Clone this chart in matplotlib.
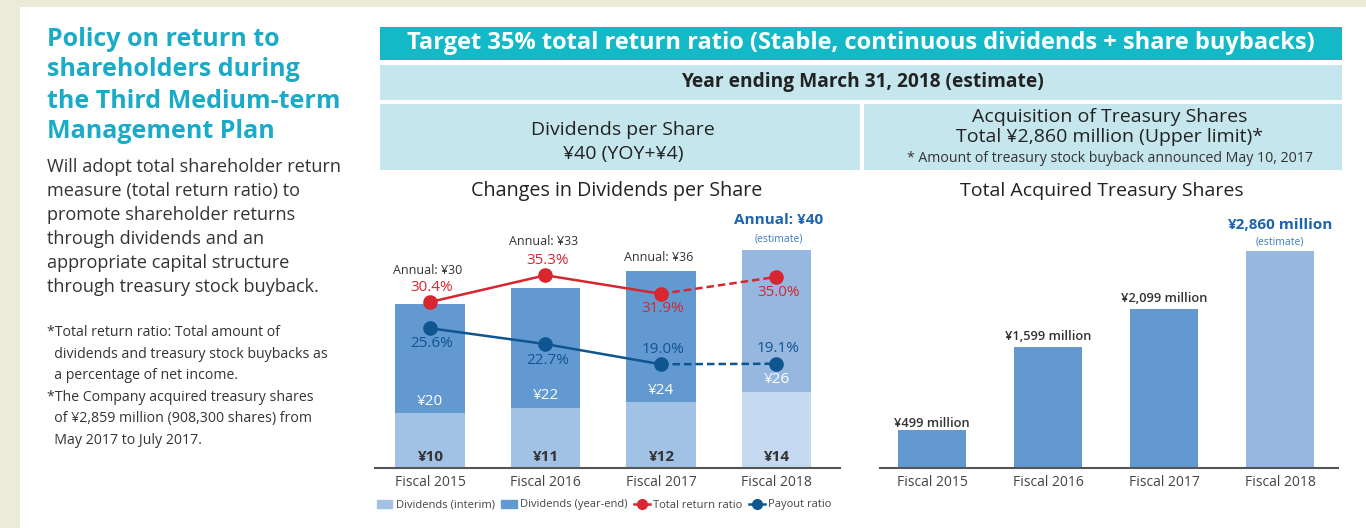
import matplotlib.pyplot as plt
from matplotlib.patches import Rectangle
from matplotlib.lines import Line2D
from matplotlib.patches import Patch

years = ['Fiscal 2015', 'Fiscal 2016', 'Fiscal 2017', 'Fiscal 2018']
div_interim = [10, 11, 12, 14]
div_yearend = [20, 22, 24, 26]
total_return = [30.4, 35.3, 31.9, 35.0]
payout = [25.6, 22.7, 19.0, 19.1]
treasury = [499, 1599, 2099, 2860]

W, H = 1366, 528
plt.rcParams['font.family'] = ['Open Sans', 'DejaVu Sans']

fig = plt.figure(figsize=(W / 100, H / 100), dpi=100)
fig.patch.set_facecolor('#ecead9')


def px(x):
    return x / W


def py(y):
    return 1 - y / H


def box(x0, y0, x1, y1, color):
    fig.add_artist(Rectangle((px(x0), py(y1)), px(x1 - x0), (y1 - y0) / H,
                             transform=fig.transFigure, color=color, lw=0, zorder=0))


# white page
box(20, 7, W, H, 'white')

# left column text
cyan = '#1aabc8'
dark = '#333333'
for i, line in enumerate(['Policy on return to', 'shareholders during',
                          'the Third Medium-term', 'Management Plan']):
    fig.text(px(47), py(39 + i * 31), line, color=cyan, fontsize=18,
             fontweight='bold', va='center')
for i, line in enumerate(['Will adopt total shareholder return',
                          'measure (total return ratio) to',
                          'promote shareholder returns',
                          'through dividends and an',
                          'appropriate capital structure',
                          'through treasury stock buyback.']):
    fig.text(px(47), py(167 + i * 24), line, color=dark, fontsize=13.1, va='center')
notes = ['*Total return ratio: Total amount of',
         '  dividends and treasury stock buybacks as',
         '  a percentage of net income.',
         '*The Company acquired treasury shares',
         '  of \u00a52,859 million (908,300 shares) from',
         '  May 2017 to July 2017.']
for i, line in enumerate(notes):
    fig.text(px(47), py(333 + i * 21.4), line, color=dark, fontsize=10.2, va='center')

# header boxes
box(380, 27, 1342, 60, '#14b9c7')
fig.text(px(861), py(43), 'Target 35% total return ratio (Stable, continuous dividends + share buybacks)',
         color='white', fontsize=17, fontweight='bold', ha='center', va='center')
box(380, 65, 1342, 100, '#c4e6ec')
fig.text(px(862), py(82), 'Year ending March 31, 2018 (estimate)', color='#222222',
         fontsize=13.8, fontweight='bold', ha='center', va='center')
box(380, 104, 860, 170, '#c4e6ec')
box(864, 104, 1342, 170, '#c4e6ec')
fig.text(px(623), py(130), 'Dividends per Share', color='#222222', fontsize=14,
         ha='center', va='center')
fig.text(px(623), py(154), '\u00a540 (YOY+\u00a54)', color='#222222', fontsize=14,
         ha='center', va='center')
fig.text(px(1110), py(117), 'Acquisition of Treasury Shares', color='#222222', fontsize=14,
         ha='center', va='center')
fig.text(px(1110), py(137), 'Total \u00a52,860 million (Upper limit)*', color='#222222',
         fontsize=14, ha='center', va='center')
fig.text(px(1110), py(158), '* Amount of treasury stock buyback announced May 10, 2017',
         color='#333333', fontsize=10.2, ha='center', va='center')

# chart titles
fig.text(px(617), py(191), 'Changes in Dividends per Share', color='#222222', fontsize=14.2,
         ha='center', va='center')
fig.text(px(1102), py(191), 'Total Acquired Treasury Shares', color='#222222', fontsize=14,
         ha='center', va='center')

# ---------- left chart ----------
red = '#d7262f'
navy = '#0f5590'
blue_txt = '#1d63ad'
ax = fig.add_axes([px(375), py(468), px(840 - 375), (468 - 200) / H])
x = list(range(len(years)))
c_int = ['#a2c2e5'] * 3 + ['#c5d9f0']
c_ye = ['#6399d1'] * 3 + ['#95b7e0']
ax.bar(x, div_interim, width=0.6, color=c_int, zorder=1)
ax.bar(x, div_yearend, width=0.6, bottom=div_interim, color=c_ye, zorder=1)
ax.set_xlim(-0.476, 3.55)
ax.set_ylim(0, 268 / 5.46)

# ratios share the same scale as the yen axis in the reference
ax.plot(x[:3], total_return[:3], color=red, lw=1.8, zorder=3)
ax.plot(x[2:], total_return[2:], color=red, lw=1.8, ls=(0, (3, 1.6)), zorder=3)
ax.plot(x, total_return, 'o', color=red, ms=9.5, zorder=4)
ax.plot(x[:3], payout[:3], color=navy, lw=1.8, zorder=3)
ax.plot(x[2:], payout[2:], color=navy, lw=1.8, ls=(0, (3, 1.6)), zorder=3)
ax.plot(x, payout, 'o', color=navy, ms=9.5, zorder=4)

for i in x:
    ax.annotate('\u00a5%d' % div_interim[i], (i, 0), xytext=(0, 11), textcoords='offset pixels',
                ha='center', va='center', fontsize=11, fontweight='bold', color='#333333')
    ax.annotate('\u00a5%d' % div_yearend[i], (i, div_interim[i]), xytext=(0, 12),
                textcoords='offset pixels', ha='center', va='center', fontsize=11,
                color='white')

tr_off = [15, 15, -15, -16]
po_off = [-15, -16, 15, 15]
for i in x:
    ax.annotate('%.1f%%' % total_return[i], (i, total_return[i]), xytext=(2, tr_off[i]),
                textcoords='offset pixels', ha='center', va='center', fontsize=11, color=red)
    ax.annotate('%.1f%%' % payout[i], (i, payout[i]), xytext=(2, po_off[i]),
                textcoords='offset pixels', ha='center', va='center', fontsize=11, color=navy)

annual_off = [34, 46, 14]
for i in range(3):
    tot = div_interim[i] + div_yearend[i]
    ax.annotate('Annual: \u00a5%d' % tot, (i, tot), xytext=(-2, annual_off[i]),
                textcoords='offset pixels', ha='center', va='center', fontsize=9,
                color='#333333', annotation_clip=False)
tot = div_interim[3] + div_yearend[3]
ax.annotate('Annual: \u00a5%d' % tot, (3, tot), xytext=(2, 30), textcoords='offset pixels',
            ha='center', va='center', fontsize=11, color=blue_txt, fontweight='bold',
            annotation_clip=False)
ax.annotate('(estimate)', (3, tot), xytext=(2, 11), textcoords='offset pixels',
            ha='center', va='center', fontsize=7.5, color='#3c7cc0', annotation_clip=False)

for s in ['top', 'left', 'right']:
    ax.spines[s].set_visible(False)
ax.spines['bottom'].set_color('#555555')
ax.spines['bottom'].set_linewidth(1.5)
ax.set_yticks([])
ax.set_xticks(x)
ax.set_xticklabels(years, fontsize=10, color='#444444')
ax.tick_params(axis='x', length=0, pad=5)
ax.patch.set_alpha(0)

handles = [Patch(color='#a2c2e5'), Patch(color='#6399d1'),
           Line2D([], [], color=red, lw=1.8, marker='o', ms=7),
           Line2D([], [], color=navy, lw=1.8, marker='o', ms=7)]
labels = ['Dividends (interim)', 'Dividends (year-end)', 'Total return ratio', 'Payout ratio']
fig.legend(handles, labels, loc='center', bbox_to_anchor=(px(604), py(505)), ncol=4,
           frameon=False, fontsize=8, handlelength=1.4, handletextpad=0.3,
           columnspacing=0.6, labelcolor='#444444')

# ---------- right chart ----------
ax2 = fig.add_axes([px(880), py(468), px(1338 - 880), (468 - 200) / H])
c_tr = ['#6399d1'] * 3 + ['#97b8e0']
ax2.bar(x, treasury, width=0.59, color=c_tr)
ax2.set_xlim(-0.448, 3.5)
ax2.set_ylim(0, 268 / 0.0759)
tr_lab_off = [7, 10, 10]
for i in range(3):
    ax2.annotate('\u00a5{:,} million'.format(treasury[i]), (i, treasury[i]),
                 xytext=(0, tr_lab_off[i]), textcoords='offset pixels', ha='center',
                 va='center', fontsize=9.3, fontweight='semibold', color='#333333')
ax2.annotate('\u00a5{:,} million'.format(treasury[3]), (3, treasury[3]), xytext=(0, 26),
             textcoords='offset pixels', ha='center', va='center', fontsize=11,
             fontweight='bold', color=blue_txt, annotation_clip=False)
ax2.annotate('(estimate)', (3, treasury[3]), xytext=(0, 9), textcoords='offset pixels',
             ha='center', va='center', fontsize=7.5, color='#3c7cc0', annotation_clip=False)
for s in ['top', 'left', 'right']:
    ax2.spines[s].set_visible(False)
ax2.spines['bottom'].set_color('#555555')
ax2.spines['bottom'].set_linewidth(1.5)
ax2.set_yticks([])
ax2.set_xticks(x)
ax2.set_xticklabels(years, fontsize=10, color='#444444')
ax2.tick_params(axis='x', length=0, pad=5)
ax2.patch.set_alpha(0)

fig.savefig('out.png', dpi=100, facecolor=fig.get_facecolor())
